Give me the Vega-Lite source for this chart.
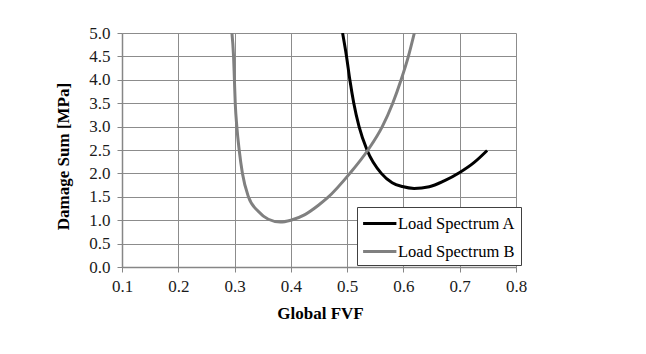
{
  "$schema": "https://vega.github.io/schema/vega-lite/v6.json",
  "width": 394,
  "height": 234,
  "autosize": {"type": "none"},
  "padding": {"left": 122, "top": 33, "right": 130, "bottom": 87},
  "background": "white",
  "config": {
    "font": "Liberation Serif",
    "view": {"stroke": null}
  },
  "data": {
    "values": [
      {"series": "Load Spectrum A", "fvf": 0.4919, "damage": 5.0},
      {"series": "Load Spectrum A", "fvf": 0.4989, "damage": 4.5},
      {"series": "Load Spectrum A", "fvf": 0.5048, "damage": 4.0},
      {"series": "Load Spectrum A", "fvf": 0.5118, "damage": 3.5},
      {"series": "Load Spectrum A", "fvf": 0.5212, "damage": 3.0},
      {"series": "Load Spectrum A", "fvf": 0.5353, "damage": 2.5},
      {"series": "Load Spectrum A", "fvf": 0.5607, "damage": 2.0},
      {"series": "Load Spectrum A", "fvf": 0.58, "damage": 1.8},
      {"series": "Load Spectrum A", "fvf": 0.598, "damage": 1.72},
      {"series": "Load Spectrum A", "fvf": 0.619, "damage": 1.68},
      {"series": "Load Spectrum A", "fvf": 0.6459, "damage": 1.715},
      {"series": "Load Spectrum A", "fvf": 0.6723, "damage": 1.84},
      {"series": "Load Spectrum A", "fvf": 0.7, "damage": 2.02},
      {"series": "Load Spectrum A", "fvf": 0.7252, "damage": 2.23},
      {"series": "Load Spectrum A", "fvf": 0.7487, "damage": 2.49},
      {"series": "Load Spectrum B", "fvf": 0.2953, "damage": 5.0},
      {"series": "Load Spectrum B", "fvf": 0.2982, "damage": 4.5},
      {"series": "Load Spectrum B", "fvf": 0.2997, "damage": 4.0},
      {"series": "Load Spectrum B", "fvf": 0.3012, "damage": 3.5},
      {"series": "Load Spectrum B", "fvf": 0.304, "damage": 3.0},
      {"series": "Load Spectrum B", "fvf": 0.3082, "damage": 2.5},
      {"series": "Load Spectrum B", "fvf": 0.314, "damage": 2.0},
      {"series": "Load Spectrum B", "fvf": 0.3246, "damage": 1.5},
      {"series": "Load Spectrum B", "fvf": 0.342, "damage": 1.19},
      {"series": "Load Spectrum B", "fvf": 0.36, "damage": 1.02},
      {"series": "Load Spectrum B", "fvf": 0.381, "damage": 0.96},
      {"series": "Load Spectrum B", "fvf": 0.4, "damage": 1.0},
      {"series": "Load Spectrum B", "fvf": 0.425, "damage": 1.12},
      {"series": "Load Spectrum B", "fvf": 0.449, "damage": 1.32},
      {"series": "Load Spectrum B", "fvf": 0.4653, "damage": 1.48},
      {"series": "Load Spectrum B", "fvf": 0.5048, "damage": 2.0},
      {"series": "Load Spectrum B", "fvf": 0.537, "damage": 2.5},
      {"series": "Load Spectrum B", "fvf": 0.5624, "damage": 3.0},
      {"series": "Load Spectrum B", "fvf": 0.581, "damage": 3.5},
      {"series": "Load Spectrum B", "fvf": 0.5959, "damage": 4.0},
      {"series": "Load Spectrum B", "fvf": 0.6088, "damage": 4.5},
      {"series": "Load Spectrum B", "fvf": 0.6194, "damage": 5.0}
    ]
  },
  "mark": {"type": "line", "interpolate": "monotone", "strokeWidth": 3, "clip": true},
  "encoding": {
    "x": {
      "field": "fvf",
      "type": "quantitative",
      "scale": {"domain": [0.1, 0.8], "nice": false, "zero": false},
      "axis": {
        "title": "Global FVF",
        "values": [0.1, 0.2, 0.3, 0.4, 0.5, 0.6, 0.7, 0.8],
        "format": ".1f",
        "labelFont": "Liberation Serif",
        "labelFontSize": 17,
        "labelColor": "#1a1a1a",
        "labelPadding": 6,
        "labelFlush": false,
        "tickSize": 5,
        "tickColor": "#868686",
        "domainColor": "#868686",
        "domainWidth": 1.5,
        "gridColor": "#8c8c8c",
        "gridWidth": 1,
        "titleFont": "Liberation Serif",
        "titleFontSize": 17,
        "titleFontWeight": "bold",
        "titleColor": "#000000",
        "titleX": 198,
        "titleY": 46,
        "titleAlign": "center",
        "titleBaseline": "middle"
      }
    },
    "y": {
      "field": "damage",
      "type": "quantitative",
      "scale": {"domain": [0, 5], "nice": false},
      "axis": {
        "title": "Damage Sum [MPa]",
        "values": [0, 0.5, 1, 1.5, 2, 2.5, 3, 3.5, 4, 4.5, 5],
        "format": ".1f",
        "labelFont": "Liberation Serif",
        "labelFontSize": 17,
        "labelColor": "#1a1a1a",
        "labelPadding": 7,
        "tickSize": 5,
        "tickColor": "#868686",
        "domainColor": "#868686",
        "domainWidth": 1.5,
        "gridColor": "#8c8c8c",
        "gridWidth": 1,
        "titleFont": "Liberation Serif",
        "titleFontSize": 17,
        "titleFontWeight": "bold",
        "titleColor": "#000000",
        "titleAngle": 270,
        "titleX": -59,
        "titleY": 123,
        "titleAlign": "center",
        "titleBaseline": "middle"
      }
    },
    "color": {
      "field": "series",
      "type": "nominal",
      "scale": {"domain": ["Load Spectrum A", "Load Spectrum B"], "range": ["#000000", "#808080"]},
      "legend": {
        "title": null,
        "orient": "none",
        "legendX": 235,
        "legendY": 174,
        "padding": 5,
        "fillColor": "white",
        "strokeColor": "#404040",
        "symbolType": "M-1.04,0L2.29,0",
        "symbolSize": 400,
        "symbolStrokeWidth": 3,
        "labelOffset": 13,
        "rowPadding": 8,
        "labelFont": "Liberation Serif",
        "labelFontSize": 16.5,
        "labelColor": "#000000"
      }
    }
  }
}
